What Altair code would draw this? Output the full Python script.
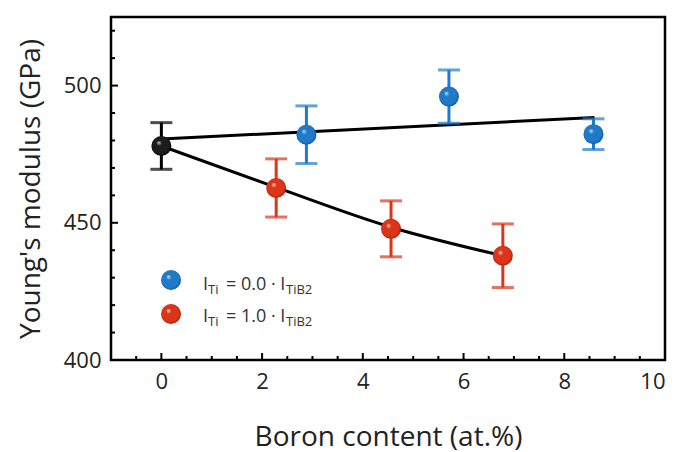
import altair as alt
import pandas as pd

# ---- data ----
ref_x = [0.0]
ref_y = [478.0]
ref_err = [8.5]

blue_x = [2.88, 5.71, 8.58]
blue_y = [482.1, 496.0, 482.3]
blue_err = [10.5, 9.7, 5.6]

red_x = [2.28, 4.56, 6.78]
red_y = [462.7, 447.8, 438.0]
red_err = [10.6, 10.2, 11.6]

fit_upper_x = [0.0, 8.6]
fit_upper_y = [480.5, 488.4]
fit_lower_x = [0.0, 2.28, 4.56, 6.78]
fit_lower_y = [478.0, 462.9, 448.4, 438.0]

x_major = [0, 2, 4, 6, 8, 10]
x_minor = [-0.5, 0.5, 1, 1.5, 2.5, 3, 3.5, 4.5, 5, 5.5, 6.5, 7, 7.5, 8.5, 9, 9.5]
y_major = [400, 450, 500]
y_minor = [410, 420, 430, 440, 460, 470, 480, 490, 510, 520]

legend_labels = ["0.0", "1.0"]

W, H = 554, 343
FONT = "Open Sans"
TXT = "#222222"

xs = alt.Scale(domain=[-1, 10], nice=False, zero=False)
ys = alt.Scale(domain=[400, 525], nice=False, zero=False)

x_axis = alt.Axis(
    values=x_major, title="Boron content (at.%)", ticks=False, domain=False, grid=False,
    labelFont=FONT, labelFontSize=22, labelColor=TXT, labelPadding=11,
    titleFont=FONT, titleFontSize=28, titleFontWeight="normal", titleColor=TXT,
    titleY=77, titleBaseline="middle")
y_axis = alt.Axis(
    values=y_major, title="Young's modulus (GPa)", ticks=False, domain=False, grid=False,
    labelFont=FONT, labelFontSize=22, labelColor=TXT, labelPadding=10,
    titleFont=FONT, titleFontSize=28, titleFontWeight="normal", titleColor=TXT,
    titleX=-80, titleY=H / 2, titleBaseline="middle", titleAngle=-90)


def X(f):
    return alt.X(f, type="quantitative", scale=xs, axis=x_axis)


def Y(f):
    return alt.Y(f, type="quantitative", scale=ys, axis=y_axis)


def series_df(x, y, e):
    return pd.DataFrame({"x": x, "y": y, "lo": [a - b for a, b in zip(y, e)],
                         "hi": [a + b for a, b in zip(y, e)]})


def sphere(light, mid, dark):
    return {"gradient": "radial", "x1": 0.36, "y1": 0.32, "r1": 0.0,
            "x2": 0.5, "y2": 0.5, "r2": 0.55,
            "stops": [{"offset": 0.0, "color": light},
                      {"offset": 0.25, "color": mid},
                      {"offset": 0.75, "color": mid},
                      {"offset": 1.0, "color": dark}]}


grad_black = sphere("#d0d0d0", "#1c1c1c", "#000000")
grad_blue = sphere("#cfe6fb", "#1f7bc9", "#0f4f8c")
grad_red = sphere("#ffd2c2", "#dc3519", "#9a1c08")

ref_df = series_df(ref_x, ref_y, ref_err)
blue_df = series_df(blue_x, blue_y, blue_err)
red_df = series_df(red_x, red_y, red_err)


def errbars(df, color):
    bar = alt.Chart(df).mark_rule(color=color, strokeWidth=3).encode(
        x=X("x"), y=Y("lo"), y2="hi:Q")
    cap_lo = alt.Chart(df).mark_tick(color=color, thickness=3, size=22, orient="horizontal").encode(
        x=X("x"), y=Y("lo"))
    cap_hi = alt.Chart(df).mark_tick(color=color, thickness=3, size=22, orient="horizontal").encode(
        x=X("x"), y=Y("hi"))
    return [bar, cap_lo, cap_hi]


def spheres(df, grad):
    return alt.Chart(df).mark_point(shape="circle", filled=True, fill=grad, size=400,
                                    strokeWidth=0, opacity=1).encode(x=X("x"), y=Y("y"))


# inward ticks
xt_major = alt.Chart(pd.DataFrame({"x": x_major})).mark_rule(color="black", strokeWidth=2).encode(
    x=X("x"), y=alt.value(H), y2=alt.value(H - 7))
xt_minor = alt.Chart(pd.DataFrame({"x": x_minor})).mark_rule(color="black", strokeWidth=2).encode(
    x=X("x"), y=alt.value(H), y2=alt.value(H - 4))
yt_major = alt.Chart(pd.DataFrame({"y": y_major})).mark_rule(color="black", strokeWidth=2).encode(
    y=Y("y"), x=alt.value(0), x2=alt.value(7))
yt_minor = alt.Chart(pd.DataFrame({"y": y_minor})).mark_rule(color="black", strokeWidth=2).encode(
    y=Y("y"), x=alt.value(0), x2=alt.value(4))

fit_up = alt.Chart(pd.DataFrame({"x": fit_upper_x, "y": fit_upper_y})).mark_line(
    color="black", strokeWidth=3).encode(x=X("x"), y=Y("y"))
fit_lo = alt.Chart(pd.DataFrame({"x": fit_lower_x, "y": fit_lower_y})).mark_line(
    color="black", strokeWidth=3, interpolate="monotone").encode(x=X("x"), y=Y("y"))

# legend (inside plot)
one = pd.DataFrame({"a": [0]})
leg = []
for i, (lab, grad) in enumerate(zip(legend_labels, [grad_blue, grad_red])):
    cy = 263 + 34 * i
    base_y = 273 + 32 * i
    leg.append(alt.Chart(one).mark_point(shape="circle", filled=True, fill=grad, size=400,
                                         strokeWidth=0, opacity=1).encode(
        x=alt.value(60), y=alt.value(cy)))
    parts = [("I", 92, 18, 0), ("Ti", 97, 13, 4), ("= " + lab + " · I", 115, 18, 0), ("TiB2", 175, 13, 4)]
    for txt, px, fs, dy in parts:
        leg.append(alt.Chart(one).mark_text(text=txt, font=FONT, fontSize=fs, color="#333333",
                                            align="left", baseline="alphabetic").encode(
            x=alt.value(px), y=alt.value(base_y + dy)))

chart = alt.layer(
    xt_major, xt_minor, yt_major, yt_minor,
    fit_up, fit_lo,
    *errbars(ref_df, "black"), *errbars(blue_df, "#1f7bc9"), *errbars(red_df, "#dc3519"),
    spheres(ref_df, grad_black), spheres(blue_df, grad_blue), spheres(red_df, grad_red),
    *leg
).properties(
    width=W, height=H,
    autosize=alt.AutoSizeParams(type="none"),
    padding={"left": 111, "top": 17, "right": 13, "bottom": 92},
    background="white",
).configure_view(stroke="black", strokeWidth=2.5)

chart.save("out.html", embed_options={"renderer": "svg", "actions": False})
